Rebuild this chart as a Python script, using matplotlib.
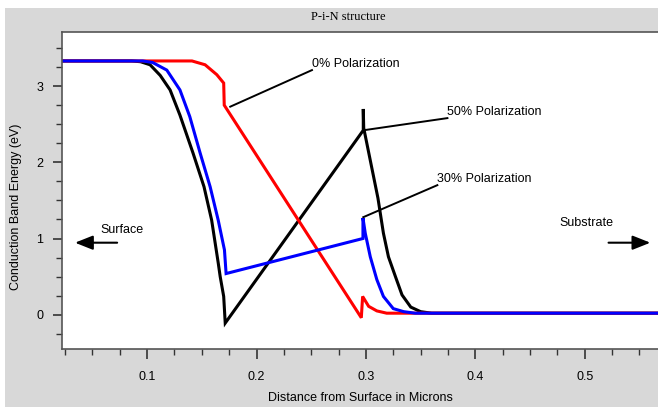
import numpy as np
import matplotlib
matplotlib.use("Agg")
import matplotlib.pyplot as plt
from matplotlib.patches import Rectangle
from matplotlib.ticker import MultipleLocator

plt.rcParams['font.family'] = ['Liberation Sans', 'DejaVu Sans']

# conduction band profiles (microns, eV)
x_50 = [0.022, 0.086, 0.094, 0.1027, 0.112, 0.121, 0.130, 0.142, 0.152, 0.159, 0.165,
        0.1668, 0.170, 0.1714, 0.2976, 0.2976, 0.2980, 0.311, 0.316, 0.3206, 0.327,
        0.333, 0.341, 0.350, 0.360, 0.567]
e_50 = [3.33, 3.33, 3.32, 3.28, 3.14, 2.95, 2.62, 2.12, 1.68, 1.24, 0.68,
        0.50, 0.24, -0.11, 2.42, 2.70, 2.45, 1.53, 1.07, 0.76, 0.50,
        0.26, 0.10, 0.04, 0.02, 0.02]

x_30 = [0.022, 0.096, 0.105, 0.118, 0.130, 0.139, 0.1485, 0.1576, 0.165, 0.1707,
        0.1722, 0.2973, 0.2973, 0.2994, 0.304, 0.310, 0.316, 0.325, 0.3345, 0.345, 0.567]
e_30 = [3.33, 3.33, 3.31, 3.21, 2.95, 2.60, 2.12, 1.68, 1.24, 0.85,
        0.54, 1.00, 1.27, 1.07, 0.76, 0.46, 0.24, 0.08, 0.04, 0.02, 0.02]

x_0 = [0.022, 0.141, 0.153, 0.1637, 0.170, 0.1705, 0.2958, 0.297, 0.3025, 0.310, 0.319, 0.567]
e_0 = [3.33, 3.33, 3.28, 3.15, 3.04, 2.75, -0.04, 0.24, 0.11, 0.05, 0.02, 0.02]

labels = ['0% Polarization', '50% Polarization', '30% Polarization']
# (curve point, text anchor) for each leader line
leaders = [((0.176, 2.73), (0.2507, 3.21)),
           ((0.2976, 2.42), (0.3745, 2.58)),
           ((0.2976, 1.28), (0.3653, 1.70))]

fig = plt.figure(figsize=(6.58, 4.07), dpi=100, facecolor='white')
fig.patches.append(Rectangle((5 / 658, 0), 1, 1 - 8 / 407, transform=fig.transFigure,
                             facecolor='#d8d8d8', edgecolor='none', zorder=-10))

ax = fig.add_axes([62 / 658, 1 - 349 / 407, 596 / 658, 317 / 407])
ax.set_facecolor('white')

ax.plot(x_50, e_50, color='black', lw=2.2, solid_joinstyle='miter')
ax.plot(x_0, e_0, color='#ff0000', lw=2.2, solid_joinstyle='miter')
ax.plot(x_30, e_30, color='#0000ff', lw=2.2, solid_joinstyle='miter')

for (p0, p1), lab in zip(leaders, labels):
    ax.plot([p0[0], p1[0]], [p0[1], p1[1]], color='black', lw=1.4)
    ax.text(p1[0], p1[1], lab, fontsize=9, ha='left', va='bottom')

ax.annotate('', xy=(0.0341, 0.945), xytext=(0.0726, 0.945),
            arrowprops=dict(arrowstyle='-|>,head_length=1.08,head_width=0.43',
                            color='black', lw=1.5, mutation_scale=10, shrinkA=0, shrinkB=0))
ax.text(0.057, 1.11, 'Surface', fontsize=9, ha='left', va='center')
ax.annotate('', xy=(0.560, 0.945), xytext=(0.5218, 0.945),
            arrowprops=dict(arrowstyle='-|>,head_length=1.08,head_width=0.43',
                            color='black', lw=1.5, mutation_scale=10, shrinkA=0, shrinkB=0))
ax.text(0.477, 1.21, 'Substrate', fontsize=9, ha='left', va='center')

ax.set_xlim(0.0222, 0.567)
ax.set_ylim(-0.45, 3.71)
ax.xaxis.set_major_locator(MultipleLocator(0.1))
ax.xaxis.set_minor_locator(MultipleLocator(0.025))
ax.yaxis.set_major_locator(MultipleLocator(1))
ax.yaxis.set_minor_locator(MultipleLocator(0.25))
ax.set_xticks([0.1, 0.2, 0.3, 0.4, 0.5])
ax.set_xticklabels(['0.1', '0.2', '0.3', '0.4', '0.5'])

for s in ['left', 'bottom', 'top']:
    ax.spines[s].set_color('#555555')
    ax.spines[s].set_linewidth(1.2)
ax.spines['right'].set_visible(False)

ax.tick_params(axis='both', which='both', direction='out', colors='#333333', labelcolor='black',
               labelsize=9)
ax.tick_params(axis='x', which='major', length=7, width=1.2, pad=9)
ax.tick_params(axis='x', which='minor', length=4.5, width=1)
ax.tick_params(axis='y', which='major', length=6.5, width=1.2, pad=7)
ax.tick_params(axis='y', which='minor', length=4, width=1)

ax.set_xlabel('Distance from Surface in Microns', fontsize=9)
ax.set_ylabel('Conduction Band Energy (eV)', fontsize=9)
ax.xaxis.set_label_coords(0.5, -0.135)
ax.yaxis.set_label_coords(-0.067, 0.448)

fig.text(348 / 658, 1 - 17 / 407, 'P-i-N structure', fontsize=9, ha='center', va='center',
         family=['Liberation Serif', 'DejaVu Serif'])

fig.savefig('out.png', dpi=100, facecolor=fig.get_facecolor())
